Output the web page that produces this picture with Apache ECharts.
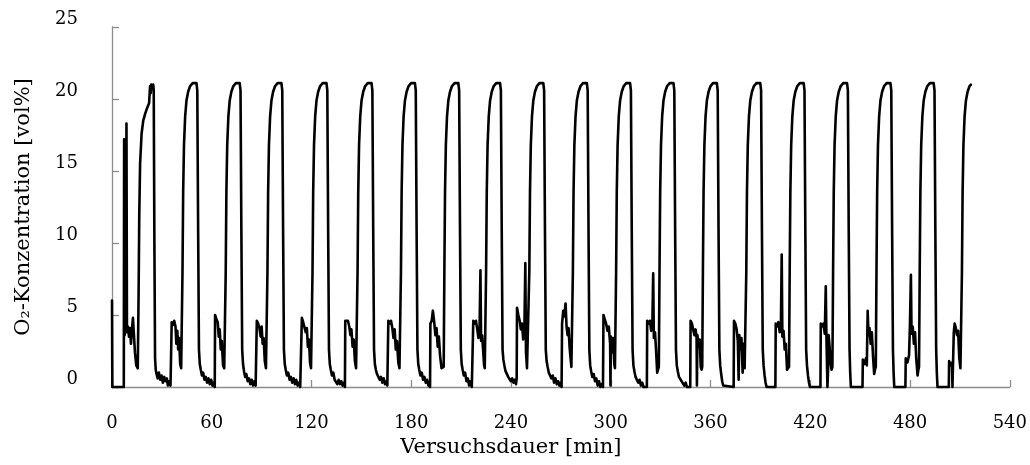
<!DOCTYPE html>
<html>
<head>
<meta charset="utf-8">
<script src="https://cdn.jsdelivr.net/npm/echarts@6/dist/echarts.min.js"></script>
<style>
html,body{margin:0;padding:0;background:#fff;}
#chart{width:1030px;height:465px;}
</style>
</head>
<body>
<div id="chart"></div>
<script>
// Axis ticks
const xTicks = [0, 60, 120, 180, 240, 300, 360, 420, 480, 540];
const yTicks = [0, 5, 10, 15, 20, 25];
const xTitle = 'Versuchsdauer [min]';
const yTitle = 'O₂-Konzentration [vol%]';

const cycle00 = [[0,6.0],[0.2,0],[7.1,0],[7.3,17.2],[7.6,3.6],[8.0,4.2],[8.4,3.9],[8.7,18.3],[9.0,3.8],[9.6,4.2],[10.2,3.5],[10.8,4.1],[11.4,3.0],[12.0,4.0],[12.6,4.8],[13.2,3.6],[13.8,2.4],[14.6,1.5],[15.5,1.3],
 [16.0,6.5],[16.4,12.0],[16.9,15.5],[17.8,17.6],[18.8,18.5],[20.0,19.0],[21.2,19.4],[22.3,19.7],[22.6,20.3],[22.9,20.9],[23.3,20.4],[23.6,21.0],[24.2,20.7],[24.8,21.0],[25.1,20.6],[25.5,10.0],[25.9,2.0],[26.3,1.2],
 [26.8,0.9],[27.5,0.6],[28.2,1.0],[29.0,0.5],[29.8,0.8],[30.6,0.3],[31.4,0.7],[32.2,0.4],[33.0,0.6],[33.6,0.1],[34.4,0.4],[35.2,0.1],[35.7,0]];
const cycle01 = [[35.9,4.5],[36.6,4.3],[37.4,4.6],[38.2,4.2],[38.7,3.0],[39.3,3.9],[39.8,2.6],[40.4,3.4],[41.0,1.6],[41.6,1.3],
 [42.0,1.4],[42.4,8.0],[42.8,13.5],[43.3,16.8],[44.0,18.8],[44.8,19.9],[45.8,20.5],[47.0,20.9],[48.5,21.1],[50.8,21.1],[51.3,20.6],[51.8,11.0],[52.3,2.6],[52.8,1.6],
 [53.4,1.2],[54.1,0.8],[54.8,1.0],[55.6,0.5],[56.4,0.7],[57.2,0.3],[58.0,0.6],[58.8,0.2],[59.6,0.5],[60.4,0.1],[61.2,0.3],[61.8,0]];
const cycle02 = [[62.0,5.0],[62.8,4.7],[63.6,4.5],[64.2,3.5],[64.8,4.0],[65.4,2.6],[66.0,3.2],[66.8,1.5],[67.5,1.3],
 [68.0,1.4],[68.4,8.0],[68.8,13.5],[69.3,16.8],[70.0,18.8],[70.8,19.9],[71.8,20.5],[73.0,20.9],[74.5,21.1],[76.8,21.1],[77.3,20.6],[77.8,11.0],[78.3,2.6],[78.8,1.6],
 [79.4,1.1],[80.1,0.7],[80.8,0.9],[81.6,0.4],[82.4,0.6],[83.2,0.2],[84.0,0.5],[84.8,0.1],[85.6,0.4],[86.4,0.1],[86.9,0]];
const cycle03 = [[87.1,4.6],[87.9,4.4],[88.7,4.1],[89.4,3.5],[90.0,4.2],[90.6,3.0],[91.2,3.4],[91.9,1.8],[92.6,1.3],
 [93.1,1.4],[93.5,8.0],[93.9,13.5],[94.4,16.8],[95.1,18.8],[95.9,19.9],[96.9,20.5],[98.1,20.9],[99.6,21.1],[101.9,21.1],[102.4,20.6],[102.9,11.0],[103.4,2.6],[103.9,1.6],
 [104.5,1.2],[105.2,0.8],[106.0,1.0],[106.8,0.5],[107.6,0.7],[108.4,0.3],[109.2,0.6],[110.0,0.2],[110.8,0.5],[111.6,0.1],[112.4,0.3],[113.2,0],[114.0,0]];
const cycle04 = [[114.2,4.8],[115.0,4.5],[115.8,4.4],[116.5,3.8],[117.2,4.1],[117.8,2.8],[118.5,3.3],[119.1,1.7],[119.7,1.3],
 [120.2,1.4],[120.6,8.0],[121.0,13.5],[121.5,16.8],[122.2,18.8],[123.0,19.9],[124.0,20.5],[125.2,20.9],[126.7,21.1],[129.0,21.1],[129.5,20.6],[130.0,11.0],[130.5,2.6],[131.0,1.6],
 [131.6,1.2],[132.3,0.8],[133.1,1.0],[133.9,0.5],[134.7,0.6],[135.5,0.2],[136.3,0.5],[137.1,0.2],[137.9,0.4],[138.7,0.1],[139.5,0.3],[140.1,0]];
const cycle05 = [[140.3,4.6],[141.1,4.5],[141.9,4.6],[142.7,4.2],[143.4,3.6],[144.0,4.0],[144.7,2.8],[145.4,3.3],[146.1,1.8],[146.8,1.3],
 [147.3,1.4],[147.7,8.0],[148.1,13.5],[148.6,16.8],[149.3,18.8],[150.1,19.9],[151.1,20.5],[152.3,20.9],[153.8,21.1],[156.1,21.1],[156.6,20.6],[157.1,11.0],[157.6,2.6],[158.1,1.6],
 [158.7,1.2],[159.4,0.9],[160.2,1.0],[161.0,0.5],[161.8,0.7],[162.6,0.3],[163.4,0.6],[164.2,0.2],[165.0,0.4],[165.6,0.1],[166.0,0]];
const cycle06 = [[166.2,4.6],[167.0,4.4],[167.8,4.6],[168.6,4.1],[169.3,3.4],[170.0,4.0],[170.7,2.6],[171.4,3.2],[172.2,1.7],[172.9,1.3],
 [173.4,1.4],[173.8,8.0],[174.2,13.5],[174.7,16.8],[175.4,18.8],[176.2,19.9],[177.2,20.5],[178.4,20.9],[179.9,21.1],[182.2,21.1],[182.7,20.6],[183.2,11.0],[183.7,2.6],[184.2,1.6],
 [184.8,1.2],[185.5,0.8],[186.3,1.0],[187.1,0.5],[187.9,0.7],[188.7,0.3],[189.5,0.5],[190.3,0.1],[191.0,0.3],[191.3,0]];
const cycle07 = [[191.5,4.4],[192.3,4.6],[193.0,5.3],[193.8,4.5],[194.5,3.6],[195.2,4.1],[195.9,2.8],[196.6,3.5],[197.3,2.2],[198.2,1.3],[198.9,1.2],
 [199.5,1.4],[199.9,8.0],[200.3,13.5],[200.8,16.8],[201.5,18.8],[202.3,19.9],[203.3,20.5],[204.5,20.9],[206.0,21.1],[208.3,21.1],[208.8,20.6],[209.3,11.0],[209.8,2.6],[210.3,1.6],
 [210.9,1.2],[211.6,0.8],[212.4,1.0],[213.2,0.4],[214.0,0.6],[214.8,0.1],[215.6,0.4],[216.4,0],[217.1,0]];
const cycle08 = [[217.3,4.6],[218.1,4.4],[218.9,4.6],[219.7,4.0],[220.4,3.4],[221.1,4.2],[221.6,8.1],[222.0,3.2],[222.6,3.6],[223.2,2.6],[223.8,1.5],[224.2,1.3],
 [224.6,1.4],[225.0,8.0],[225.4,13.5],[225.9,16.8],[226.6,18.8],[227.4,19.9],[228.4,20.5],[229.6,20.9],[231.1,21.1],[233.4,21.1],[233.9,20.6],[234.4,11.0],[234.9,2.6],[235.4,1.9],
 [236.0,1.5],[236.7,1.1],[237.5,1.2],[238.3,0.7],[239.1,0.8],[239.9,0.4],[240.7,0.6],[241.5,0.3],[242.3,0.5],[243.0,0.2],[243.4,0.6]];
const cycle09 = [[243.6,5.5],[244.4,5.0],[245.2,4.6],[245.9,4.0],[246.6,4.4],[247.3,3.3],[248.0,3.8],[248.6,8.6],[249.0,2.4],[249.6,1.3],[250.1,1.2],
 [250.6,1.4],[251.0,8.0],[251.4,13.5],[251.9,16.8],[252.6,18.8],[253.4,19.9],[254.4,20.5],[255.6,20.9],[257.1,21.1],[259.4,21.1],[259.9,20.6],[260.4,11.0],[260.9,2.6],[261.4,1.8],
 [262.0,1.4],[262.7,1.0],[263.5,1.1],[264.3,0.6],[265.1,0.8],[265.9,0.3],[266.7,0.6],[267.5,0.2],[268.3,0.4],[269.1,0.1],[269.8,0.3],[270.4,0]];
const cycle10 = [[270.7,4.4],[271.4,5.3],[272.0,4.9],[272.8,5.8],[273.4,4.2],[274.0,3.6],[274.6,4.1],[275.2,2.8],[275.8,2.0],[276.3,1.4],
 [276.8,1.4],[277.2,8.0],[277.6,13.5],[278.1,16.8],[278.8,18.8],[279.6,19.9],[280.6,20.5],[281.8,20.9],[283.3,21.1],[285.6,21.1],[286.1,20.6],[286.6,11.0],[287.1,2.6],[287.6,1.5],
 [288.2,1.1],[288.9,0.7],[289.7,0.9],[290.5,0.4],[291.3,0.6],[292.1,0.1],[292.9,0.4],[293.7,0],[294.5,0.2],[295.3,0]];
const cycle11 = [[295.6,5.0],[296.4,4.7],[297.2,4.4],[298.0,3.9],[298.8,4.2],[299.6,3.0],[299.8,0.1],[300.1,3.5],[300.8,2.4],[301.5,3.4],[302.1,1.6],[302.5,1.3],
 [302.8,1.4],[303.2,8.0],[303.6,13.5],[304.1,16.8],[304.8,18.8],[305.6,19.9],[306.6,20.5],[307.8,20.9],[309.3,21.1],[311.6,21.1],[312.1,20.6],[312.6,11.0],[313.1,2.6],[313.6,1.5],
 [314.2,1.1],[314.9,0.7],[315.7,0.8],[316.5,0.3],[317.3,0.5],[318.1,0.1],[318.9,0.3],[319.7,0],[321.7,0]];
const cycle12 = [[321.9,4.6],[322.7,4.4],[323.5,4.6],[324.3,3.9],[325.0,4.3],[325.5,7.9],[325.9,3.4],[326.6,3.8],[327.3,2.4],[327.9,1.0],[328.4,1.2],
 [328.9,1.4],[329.3,8.0],[329.7,13.5],[330.2,16.8],[330.9,18.8],[331.7,19.9],[332.7,20.5],[333.9,20.9],[335.4,21.1],[337.7,21.1],[338.2,20.6],[338.7,11.0],[339.2,2.6],[339.7,1.5],
 [340.3,1.1],[341.0,0.7],[341.8,0.8],[342.6,0.4],[343.4,0.5],[344.2,0.1],[345.0,0.3],[345.8,0],[347.8,0]];
const cycle13 = [[348.0,4.6],[348.8,4.4],[349.6,4.3],[350.3,3.6],[351.0,4.0],[351.6,3.4],[351.8,0.1],[352.1,3.6],[352.8,2.8],[353.5,3.3],[354.1,1.4],[354.6,1.2],
 [355.0,1.4],[355.4,8.0],[355.8,13.5],[356.3,16.8],[357.0,18.8],[357.8,19.9],[358.8,20.5],[360.0,20.9],[361.5,21.1],[363.8,21.1],[364.3,20.6],[364.8,11.0],[365.3,2.6],[365.8,1.5],
 [366.4,0.9],[367.0,0.4],[367.6,0.1],[368.2,0],[373.9,0]];
const cycle14 = [[374.1,4.6],[374.9,4.4],[375.7,4.0],[376.4,3.2],[376.9,0.5],[377.3,3.6],[378.0,2.6],[378.6,3.4],[379.3,1.0],[379.9,3.0],[380.5,1.3],
 [381.1,1.4],[381.5,8.0],[381.9,13.5],[382.4,16.8],[383.1,18.8],[383.9,19.9],[384.9,20.5],[386.1,20.9],[387.6,21.1],[389.9,21.1],[390.4,20.6],[390.9,11.0],[391.4,2.6],[391.9,1.5],
 [392.5,0.8],[393.1,0.3],[393.7,0],[399.0,0]];
const cycle15 = [[399.2,4.4],[400.0,4.2],[400.8,4.5],[401.6,3.8],[402.3,4.1],[402.8,9.2],[403.2,3.5],[403.9,3.9],[404.6,2.6],[405.3,3.0],[406.0,1.2],[406.7,1.1],
 [407.2,1.4],[407.6,8.0],[408.0,13.5],[408.5,16.8],[409.2,18.8],[410.0,19.9],[411.0,20.5],[412.2,20.9],[413.7,21.1],[416.0,21.1],[416.5,20.6],[417.0,11.0],[417.5,2.6],[418.0,1.5],
 [418.6,0.8],[419.2,0.3],[419.8,0],[426.1,0]];
const cycle16 = [[426.3,4.4],[427.1,4.2],[427.9,4.4],[428.7,3.7],[429.3,7.0],[429.7,3.5],[430.3,0],[430.7,1.2],[431.0,3.6],[431.6,2.8],[432.3,1.6],[432.8,1.2],
 [433.3,1.4],[433.7,8.0],[434.1,13.5],[434.6,16.8],[435.3,18.8],[436.1,19.9],[437.1,20.5],[438.3,20.9],[439.8,21.1],[442.1,21.1],[442.6,20.6],[443.1,11.0],[443.6,2.6],[444.0,1.0],
 [444.4,0],[451.4,0]];
const cycle17 = [[451.6,1.9],[452.6,1.6],[453.5,2.0],[454.0,1.5],[454.5,5.3],[455.0,3.6],[455.6,4.1],[456.3,3.0],[457.0,3.8],[457.7,2.2],[458.4,0.9],[458.9,1.2],
 [459.4,1.4],[459.8,8.0],[460.2,13.5],[460.7,16.8],[461.4,18.8],[462.2,19.9],[463.2,20.5],[464.4,20.9],[465.9,21.1],[468.2,21.1],[468.7,20.6],[469.2,11.0],[469.7,2.6],[470.1,1.0],
 [470.5,0],[477.2,0]];
const cycle18 = [[477.4,2.0],[478.4,1.7],[479.4,2.2],[479.9,4.2],[480.5,7.8],[480.9,3.7],[481.6,4.2],[482.3,3.0],[483.0,3.8],[483.7,2.0],[484.5,0.8],[485.0,1.2],
 [485.4,1.4],[485.8,8.0],[486.2,13.5],[486.7,16.8],[487.4,18.8],[488.2,19.9],[489.2,20.5],[490.4,20.9],[491.9,21.1],[494.2,21.1],[494.7,20.6],[495.2,11.0],[495.7,2.6],[496.1,1.0],
 [496.5,0],[503.3,0]];
const cycle19 = [[503.5,1.8],[504.4,1.5],[505.2,1.7],[505.5,0],[505.9,0],[506.3,3.8],[506.8,4.4],[507.5,4.1],[508.2,3.6],[508.9,3.9],[509.6,2.0],[510.3,1.3],
 [510.8,1.4],[511.2,8.0],[511.6,13.5],[512.1,16.8],[512.8,18.8],[513.6,19.9],[514.6,20.5],[515.8,20.9],[516.6,21.0]];

const cycles = [cycle00, cycle01, cycle02, cycle03, cycle04, cycle05, cycle06, cycle07, cycle08, cycle09,
  cycle10, cycle11, cycle12, cycle13, cycle14, cycle15, cycle16, cycle17, cycle18, cycle19];
const seriesData = [].concat(...cycles);

const FONT = 'DejaVu Serif';
const chart = echarts.init(document.getElementById('chart'), null, {renderer: 'canvas'});
chart.setOption({
  animation: false,
  backgroundColor: '#ffffff',
  grid: {left: 112, right: 20, top: 27, bottom: 78, containLabel: false},
  xAxis: {
    type: 'value',
    min: xTicks[0], max: xTicks[xTicks.length - 1], interval: 60,
    name: xTitle, nameLocation: 'middle', nameGap: 50,
    nameTextStyle: {fontFamily: FONT, fontSize: 21, color: '#000', padding: [0, 100, 0, 0]},
    axisLine: {show: true, lineStyle: {color: '#8c8c8c', width: 1.3}},
    axisTick: {show: true, inside: true, length: 7, lineStyle: {color: '#8c8c8c', width: 1.3}},
    axisLabel: {fontFamily: FONT, fontSize: 18, color: '#000', margin: 27},
    splitLine: {show: false}
  },
  yAxis: {
    type: 'value',
    min: yTicks[0], max: yTicks[yTicks.length - 1], interval: 5,
    name: yTitle, nameLocation: 'middle', nameGap: 78, nameRotate: 90,
    nameTextStyle: {fontFamily: FONT, fontSize: 21, color: '#000'},
    axisLine: {show: true, lineStyle: {color: '#8c8c8c', width: 1.3}},
    axisTick: {show: true, inside: true, length: 7, lineStyle: {color: '#8c8c8c', width: 1.3}},
    axisLabel: {fontFamily: FONT, fontSize: 18, color: '#000', margin: 34, verticalAlign: 'bottom', lineHeight: 16},
    splitLine: {show: false}
  },
  series: [{
    type: 'line',
    data: seriesData,
    showSymbol: false,
    clip: false,
    sampling: null,
    lineStyle: {color: '#000', width: 2.6, join: 'round', cap: 'round'},
    silent: true
  }]
});
</script>
</body>
</html>
